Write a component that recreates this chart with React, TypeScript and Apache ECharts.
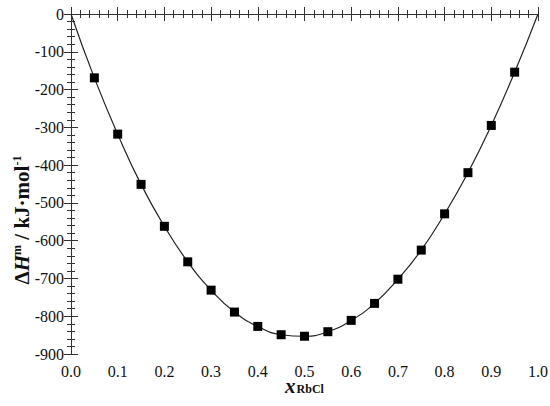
import React, { useEffect, useRef } from "react";
import * as echarts from "echarts";

const xValues = [0.05, 0.1, 0.15, 0.2, 0.25, 0.3, 0.35, 0.4, 0.45, 0.5, 0.55, 0.6, 0.65, 0.7, 0.75, 0.8, 0.85, 0.9, 0.95];
const dH = [-169, -318, -451, -562, -656, -731, -789, -827, -849, -853, -841, -811, -766, -702, -625, -529, -420, -295, -154];
const curveEnds = [[0, 0], [1, 0]];

const FONT = "Liberation Serif";

export default function App() {
  const ref = useRef<HTMLDivElement>(null);
  useEffect(() => {
    if (!ref.current) return;
    const chart = echarts.init(ref.current, null, { renderer: "svg" });
    const pts = xValues.map((x, i) => [x, dH[i]]);
    const curve = [curveEnds[0], ...pts, curveEnds[1]];
    const axisLine = { show: true, lineStyle: { color: "#333", width: 1 } };
    const axisTick = { show: true, inside: true, length: 7, lineStyle: { color: "#333" } };
    const minorTick = { show: true, splitNumber: 5, length: 4, lineStyle: { color: "#333" } };
    const labelStyle = { color: "#111", fontFamily: FONT, fontSize: 16, fontWeight: "normal" };
    chart.setOption({
      animation: false,
      backgroundColor: "#fff",
      textStyle: { fontFamily: FONT },
      grid: { left: 71, right: 12, top: 14, bottom: 52, outerBoundsMode: "none", containLabel: false },
      xAxis: [
        {
          type: "value", min: 0, max: 1, interval: 0.1, position: "bottom",
          axisLine, axisTick, minorTick, splitLine: { show: false },
          axisLabel: { ...labelStyle, margin: 9, formatter: (v: number) => v.toFixed(1) },
          name: "{x|x}{s|RbCl}", nameLocation: "middle", nameGap: 21, nameMoveOverlap: false,
          nameTextStyle: {
            fontFamily: FONT,
            rich: {
              x: { fontFamily: FONT, fontSize: 21, fontWeight: "bold", fontStyle: "italic", color: "#111" },
              s: { fontFamily: FONT, fontSize: 12, fontWeight: "bold", color: "#111", padding: [7, 0, 0, 1] },
            },
          },
        },
        {
          type: "value", min: 0, max: 1, interval: 0.1, position: "top",
          axisLine, axisTick, minorTick, splitLine: { show: false }, axisLabel: { show: false },
        },
      ],
      yAxis: [
        {
          type: "value", min: -900, max: 0, interval: 100, position: "left",
          axisLine, axisTick, minorTick, splitLine: { show: false },
          axisLabel: { ...labelStyle, margin: 7 },
        },
        {
          type: "value", min: -900, max: 0, interval: 100, position: "right",
          axisLine, axisTick, minorTick, splitLine: { show: false }, axisLabel: { show: false },
        },
      ],
      graphic: [
        {
          type: "text", x: 22, y: 220, rotation: Math.PI / 2,
          style: {
            text: "{b|Δ}{i|H}{sup|m}{b| / kJ·mol}{sup|-1}",
            align: "center", verticalAlign: "middle",
            rich: {
              b: { fontFamily: FONT, fontSize: 21, fontWeight: "bold", fill: "#111" },
              i: { fontFamily: FONT, fontSize: 21, fontWeight: "bold", fontStyle: "italic", fill: "#111" },
              sup: { fontFamily: FONT, fontSize: 12, fontWeight: "bold", fill: "#111", padding: [0, 0, 10, 0] },
            },
          },
        },
      ],
      series: [
        {
          type: "line", data: curve, smooth: 0.5, showSymbol: false, symbol: "none",
          lineStyle: { color: "#222", width: 1.2 }, z: 2,
        },
        {
          type: "scatter", data: pts, symbol: "rect", symbolSize: 9,
          itemStyle: { color: "#000", opacity: 1 }, z: 3,
        },
      ],
    });
    return () => chart.dispose();
  }, []);
  return <div ref={ref} style={{ position: "absolute", left: 0, top: 0, width: 550, height: 406 }} />;
}
